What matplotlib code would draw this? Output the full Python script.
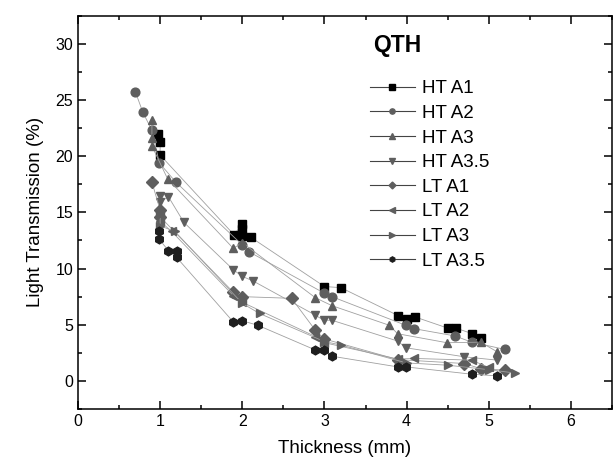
from matplotlib import pyplot as plt
from matplotlib.ticker import MultipleLocator

plt.rcParams['font.family'] = ['Liberation Sans', 'DejaVu Sans']

# HT series
ht_a1_x = [0.98, 1.0, 1.0, 1.9, 2.0, 2.0, 2.0, 2.1, 3.0, 3.2, 3.9, 4.0, 4.1, 4.5, 4.6, 4.8, 4.9]
ht_a1_y = [22.0, 21.3, 20.1, 13.0, 14.0, 13.5, 12.9, 12.8, 8.4, 8.3, 5.8, 5.55, 5.7, 4.7, 4.7, 4.2, 3.8]

ht_a2_x = [0.70, 0.79, 0.90, 0.99, 1.19, 2.0, 2.08, 3.0, 3.09, 3.99, 4.09, 4.59, 4.79, 5.2]
ht_a2_y = [25.7, 23.9, 22.3, 19.4, 17.7, 12.1, 11.5, 7.8, 7.5, 4.95, 4.65, 4.0, 3.45, 2.8]

ht_a3_x = [0.9, 0.9, 0.9, 1.09, 1.89, 2.0, 2.89, 3.09, 3.79, 3.89, 4.49, 4.9, 5.1]
ht_a3_y = [23.2, 21.6, 20.9, 18.0, 11.8, 12.3, 7.4, 6.7, 4.95, 4.2, 3.4, 3.45, 2.6]

ht_a35_x = [1.0, 1.0, 1.1, 1.29, 1.89, 2.0, 2.13, 2.89, 2.99, 3.09, 3.89, 3.99, 4.7, 5.1]
ht_a35_y = [16.5, 15.9, 16.4, 14.1, 9.9, 9.3, 8.9, 5.85, 5.4, 5.4, 3.55, 2.95, 2.15, 1.85]

# LT series
lt_a1_x = [0.9, 1.0, 1.0, 1.89, 2.0, 2.6, 2.89, 2.99, 3.89, 4.7, 4.9, 5.2]
lt_a1_y = [17.7, 15.2, 14.6, 7.9, 7.5, 7.35, 4.5, 3.75, 1.9, 1.55, 1.1, 0.95]

lt_a2_x = [1.0, 1.0, 1.14, 1.89, 2.0, 2.89, 3.0, 3.89, 4.09, 4.79, 5.0]
lt_a2_y = [15.0, 14.2, 13.3, 7.6, 7.0, 3.95, 3.4, 1.95, 2.0, 1.85, 1.2]

lt_a3_x = [1.0, 1.0, 1.18, 2.0, 2.21, 3.0, 3.2, 4.0, 4.5, 5.0, 5.32]
lt_a3_y = [14.8, 13.8, 13.3, 6.9, 6.0, 3.5, 3.2, 1.6, 1.4, 1.0, 0.7]

lt_a35_x = [0.99, 0.99, 1.1, 1.2, 1.2, 1.89, 2.0, 2.19, 2.89, 2.99, 3.09, 3.89, 3.99, 4.79, 5.1]
lt_a35_y = [13.3, 12.6, 11.6, 11.6, 11.0, 5.25, 5.35, 4.95, 2.75, 2.75, 2.2, 1.25, 1.25, 0.6, 0.45]

series = [
    ('HT A1', ht_a1_x, ht_a1_y, 's', '#000000'),
    ('HT A2', ht_a2_x, ht_a2_y, 'o', '#5e5e5e'),
    ('HT A3', ht_a3_x, ht_a3_y, '^', '#5e5e5e'),
    ('HT A3.5', ht_a35_x, ht_a35_y, 'v', '#5e5e5e'),
    ('LT A1', lt_a1_x, lt_a1_y, 'D', '#5e5e5e'),
    ('LT A2', lt_a2_x, lt_a2_y, '<', '#5e5e5e'),
    ('LT A3', lt_a3_x, lt_a3_y, '>', '#5e5e5e'),
    ('LT A3.5', lt_a35_x, lt_a35_y, 'h', '#1e1e1e'),
]

fig = plt.figure(figsize=(6.13, 4.65), dpi=100)
ax = fig.add_axes([0.1272, 0.1204, 0.8712, 0.8458])

for name, xs, ys, mk, col in series:
    ms = 5.8 if mk == 'D' else 6.3
    ax.plot(xs, ys, color='#a0a0a0', lw=0.6, marker=mk, ms=ms,
            mfc=col, mec=col, label=name)

ax.set_xlim(0, 6.5)
ax.set_ylim(-2.5, 32.5)
ax.xaxis.set_major_locator(MultipleLocator(1))
ax.xaxis.set_minor_locator(MultipleLocator(0.5))
ax.yaxis.set_major_locator(MultipleLocator(5))
ax.yaxis.set_minor_locator(MultipleLocator(2.5))
ax.tick_params(which='both', direction='in', top=True, right=True,
               width=1.1, labelsize=11.5)
ax.tick_params(which='major', length=5.5)
ax.tick_params(which='minor', length=3)
for sp in ax.spines.values():
    sp.set_linewidth(1.1)

ax.set_xlabel('Thickness (mm)', fontsize=13.5, labelpad=8)
ax.set_ylabel('Light Transmission (%)', fontsize=13.5, labelpad=8)

ax.text(0.553, 0.925, 'QTH', transform=ax.transAxes, fontsize=16.5,
        fontweight='bold', va='center')

leg = ax.legend(loc='upper left', bbox_to_anchor=(0.532, 0.855), frameon=False,
                fontsize=13.5, markerscale=0.6, handlelength=2.4,
                handletextpad=0.4, labelspacing=0.4, borderaxespad=0)
for h in leg.legend_handles:
    h.set_color('#444444')
    h.set_linewidth(0.8)

fig.savefig('out.png', dpi=100)
